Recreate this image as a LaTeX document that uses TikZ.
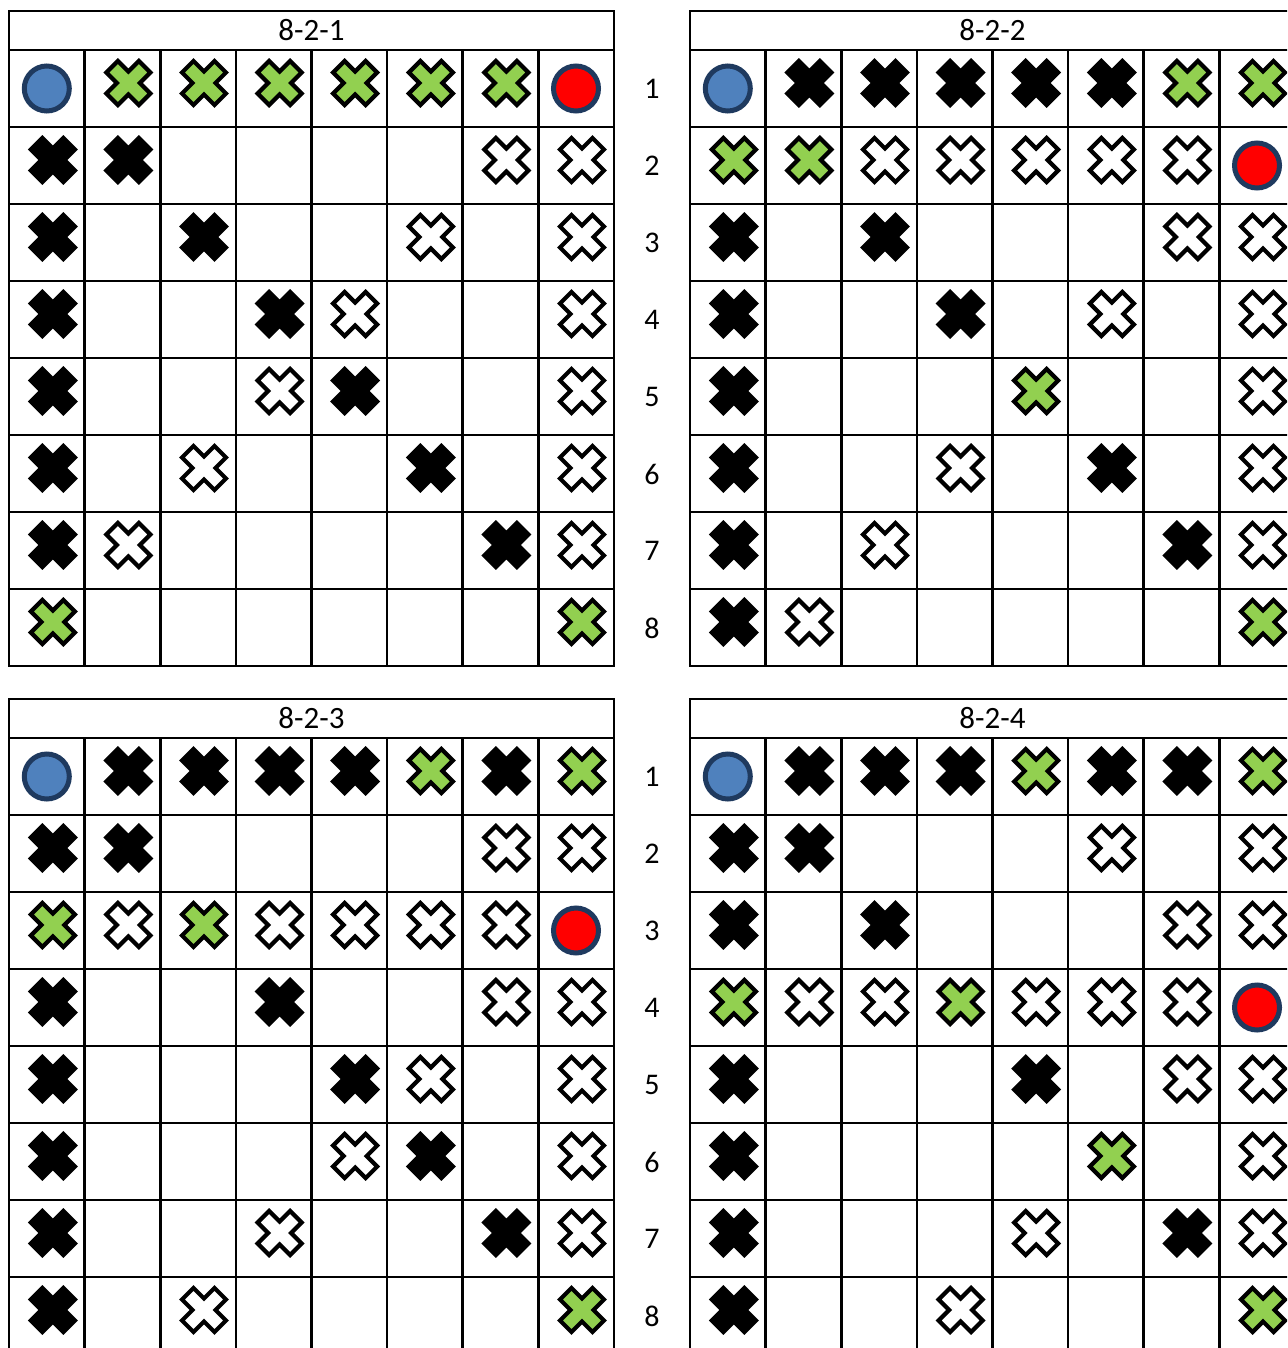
\documentclass[tikz,border=0pt]{standalone}
\usepackage{fontspec}
\setmainfont{Carlito}
\usetikzlibrary{positioning}
\definecolor{startblue}{HTML}{4F81BD}
\definecolor{rim}{HTML}{1F3A5F}
\definecolor{okgreen}{HTML}{92D050}

\newcommand{\boardframe}[2]{%
  \draw[boardline] (0,0) rectangle (605,655);
  \draw[boardline] (0,39) -- (605,39);
  \foreach \r in {1,...,7} \draw[boardline] (0,{39+77*\r}) -- (605,{39+77*\r});
  \foreach \c in {1,...,7} \draw[boardline] ({75.6*\c},39) -- ({75.6*\c},655);
  \node[title] (#1) at (302.5,19.5) {#2};}
\newcommand{\putmarks}[2]{%
  \foreach \c/\r in {#2} \pic at ({75.6*\c-31.8},{77*\r-5}) {cross=#1};}

\begin{document}
\begin{tikzpicture}[x=1pt,y=-1pt,
  boardline/.style={line width=2.6pt,line cap=rect},
  title/.style={font=\fontsize{31}{34}\selectfont,inner sep=0pt},
  rowno/.style={font=\fontsize{30}{33}\selectfont,inner sep=0pt},
  disc/.style={circle,draw=rim,line width=5pt,minimum size=45pt,inner sep=0pt},
  start/.style={disc,fill=startblue},
  goal/.style={disc,fill=red},
  pics/cross/.style={code={
    \draw[line width=4.2pt,line join=miter,fill=#1]
      (11.5,0) -- (22,10.5) -- (10.5,22) -- (0,11.5) -- (-10.5,22) -- (-22,10.5)
      -- (-11.5,0) -- (-22,-10.5) -- (-10.5,-22) -- (0,-11.5) -- (10.5,-22) -- (22,-10.5) -- cycle;}}]
\useasboundingbox (0,0) rectangle (1287,1348);
\clip (0,0) rectangle (1287,1348);

\begin{scope}[shift={(9,11)}]
\boardframe{t1}{8-2-1}
\node[start] (s1) at (37.8,77.5) {};
\node[goal] (g1) at (567,77.5) {};
\putmarks{okgreen}{2/1,3/1,4/1,5/1,6/1,7/1,1/8,8/8}
\putmarks{black}{1/2,2/2,1/3,3/3,1/4,4/4,1/5,5/5,1/6,6/6,1/7,7/7}
\putmarks{white}{7/2,8/2,6/3,8/3,5/4,8/4,4/5,8/5,3/6,8/6,2/7,8/7}
\end{scope}

\begin{scope}[shift={(690,11)}]
\boardframe{t2}{8-2-2}
\node[start] (s2) at (37.8,77.5) {};
\node[goal] (g2) at (567,154.5) {};
\putmarks{okgreen}{7/1,8/1,1/2,2/2,5/5,8/8}
\putmarks{black}{2/1,3/1,4/1,5/1,6/1,1/3,3/3,1/4,4/4,1/5,1/6,6/6,1/7,7/7,1/8}
\putmarks{white}{3/2,4/2,5/2,6/2,7/2,7/3,8/3,6/4,8/4,8/5,4/6,8/6,3/7,8/7,2/8}
\end{scope}

\begin{scope}[shift={(9,699)}]
\boardframe{t3}{8-2-3}
\node[start] (s3) at (37.8,77.5) {};
\node[goal] (g3) at (567,231.5) {};
\putmarks{okgreen}{6/1,8/1,1/3,3/3,8/8}
\putmarks{black}{2/1,3/1,4/1,5/1,7/1,1/2,2/2,1/4,4/4,1/5,5/5,1/6,6/6,1/7,7/7,1/8}
\putmarks{white}{7/2,8/2,2/3,4/3,5/3,6/3,7/3,7/4,8/4,6/5,8/5,5/6,8/6,4/7,8/7,3/8}
\end{scope}

\begin{scope}[shift={(690,699)}]
\boardframe{t4}{8-2-4}
\node[start] (s4) at (37.8,77.5) {};
\node[goal] (g4) at (567,308.5) {};
\putmarks{okgreen}{5/1,8/1,1/4,4/4,6/6,8/8}
\putmarks{black}{2/1,3/1,4/1,6/1,7/1,1/2,2/2,1/3,3/3,1/5,5/5,1/6,1/7,7/7,1/8}
\putmarks{white}{6/2,8/2,7/3,8/3,2/4,3/4,5/4,6/4,7/4,7/5,8/5,8/6,5/7,8/7,4/8}
\end{scope}

\foreach \r in {1,...,8} {
  \node[rowno] (ra\r) at (652,{77*\r+12}) {\r};
  \node[rowno] (rb\r) at (652,{77*\r+700}) {\r};
}
\end{tikzpicture}
\end{document}
